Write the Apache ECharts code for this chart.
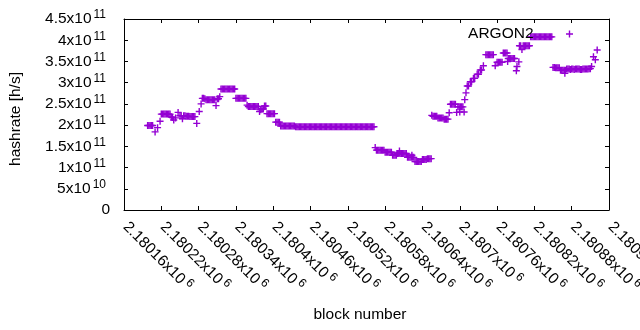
<!DOCTYPE html>
<html>
<head>
<meta charset="utf-8">
<script src="https://cdn.jsdelivr.net/npm/echarts/dist/echarts.min.js"></script>
<style>
html,body{margin:0;padding:0;background:#fff;}
#chart{width:640px;height:330px;}
</style>
</head>
<body>
<div id="chart"></div>
<script>
// ---- data ----
const seriesName = 'ARGON2';
const xAxisTitle = 'block number';
const yAxisTitle = 'hashrate [h/s]';
const xRange = [2180160, 2180940];
const xTickStep = 60;
const yRange = [0, 4.5e11];
const yTickStep = 0.5e11;
const blockBase = 2180000;   // block number = blockBase + offset
const hashrateUnit = 1e11;   // hashrate = value * hashrateUnit

const blockOffsets = [
  198,200,202,204,206,210,214,218,
  220,222,224,226,228,230,232,234,
  236,238,240,243,247,
  250,252,254,256,258,260,262,264,266,268,270,272,274,
  277,281,284,
  286,288,290,292,294,296,298,300,302,304,306,
  308,310,312,314,316,318,320,322,324,326,328,330,332,334,336,338,
  340,342,344,346,348,350,352,354,356,
  358,360,362,364,366,368,370,372,374,376,
  378,380,382,384,386,388,
  390,392,394,396,398,400,402,
  404,406,408,410,412,414,416,418,420,422,424,426,428,430,432,434,
  436,438,440,442,444,446,448,450,452,454,456,458,460,462,464,466,
  468,470,472,474,476,478,480,482,484,486,488,490,492,494,496,498,
  500,502,504,506,508,510,512,514,516,518,520,522,524,526,528,530,
  532,534,536,538,540,542,544,546,548,550,552,554,556,558,560,562,
  564,566,568,570,572,574,576,578,
  580,582,584,586,588,590,
  592,594,596,598,
  600,602,603,604,606,608,610,612,614,
  616,618,620,622,623,624,626,
  628,630,632,634,636,638,
  640,642,644,646,
  648,650,652,654,
  655,657,659,661,663,665,667,669,671,673,675,677,679,681,
  683,685,687,689,691,693,695,697,699,700,701,703,705,707,
  708,710,712,714,717,719,722,724,728,730,733,735,738,
  742,744,746,748,750,752,754,
  757,760,762,764,766,768,
  770,772,774,776,777,
  778,780,782,784,786,788,
  791,792,795,
  796,798,800,802,804,806,808,810,812,
  814,816,818,820,822,824,826,828,830,832,834,836,838,840,842,844,846,848,
  850,852,854,856,858,860,
  862,864,866,868,869,870,
  872,874,876,878,880,882,884,886,888,890,892,894,896,898,900,902,904,906,908,910,
  912,915,918,921
];

const hashrateE11 = [
  1.99,1.99,1.99,1.99,1.99,1.84,1.94,2.09,
  2.26,2.26,2.26,2.26,2.26,2.26,2.26,2.26,
  2.19,2.18,2.12,2.17,2.30,
  2.22,2.22,2.15,2.22,2.22,2.21,2.21,2.21,2.20,2.20,2.20,2.20,2.20,
  2.04,2.32,2.50,
  2.63,2.63,2.62,2.60,2.60,2.60,2.60,2.60,2.60,2.60,2.60,
  2.46,2.62,2.62,2.67,2.85,2.85,2.85,2.85,2.85,2.85,2.85,2.85,2.85,2.85,2.85,2.85,
  2.63,2.63,2.63,2.63,2.63,2.63,2.63,2.63,2.63,
  2.47,2.44,2.44,2.44,2.44,2.44,2.44,2.44,2.44,2.44,
  2.32,2.36,2.38,2.38,2.45,2.45,
  2.27,2.27,2.27,2.27,2.27,2.27,2.27,
  2.07,2.07,2.07,2.07,1.98,1.98,1.98,1.98,1.98,1.98,1.98,1.98,1.98,1.98,1.98,1.98,
  1.96,1.96,1.96,1.96,1.96,1.96,1.96,1.96,1.96,1.96,1.96,1.96,1.96,1.96,1.96,1.96,
  1.96,1.96,1.96,1.96,1.96,1.96,1.96,1.96,1.96,1.96,1.96,1.96,1.96,1.96,1.96,1.96,
  1.96,1.96,1.96,1.96,1.96,1.96,1.96,1.96,1.96,1.96,1.96,1.96,1.96,1.96,1.96,1.96,
  1.96,1.96,1.96,1.96,1.96,1.96,1.96,1.96,1.96,1.96,1.96,1.96,1.96,1.96,1.96,1.96,
  1.47,1.41,1.41,1.41,1.41,1.41,1.41,1.41,
  1.36,1.36,1.36,1.36,1.36,1.36,
  1.29,1.29,1.29,1.29,
  1.33,1.33,1.39,1.33,1.33,1.33,1.33,1.33,1.33,
  1.24,1.24,1.24,1.24,1.29,1.24,1.24,
  1.14,1.14,1.14,1.14,1.14,1.14,
  1.19,1.19,1.19,1.19,
  1.21,1.21,1.21,1.21,
  2.23,2.21,2.21,2.21,2.21,2.17,2.17,2.17,2.17,2.17,2.14,2.14,2.14,2.14,
  2.29,2.49,2.49,2.49,2.49,2.49,2.30,2.43,2.43,2.31,2.43,2.43,2.43,2.31,
  2.60,2.76,2.92,2.92,3.02,3.02,3.10,3.10,3.20,3.20,3.30,3.30,3.40,
  3.66,3.66,3.66,3.66,3.66,3.66,3.66,
  3.40,3.48,3.48,3.48,3.48,3.48,
  3.70,3.70,3.70,3.70,3.50,
  3.57,3.57,3.57,3.57,3.57,3.57,
  3.28,3.38,3.49,
  3.87,3.87,3.78,3.87,3.87,3.87,3.87,3.87,3.87,
  4.08,4.08,4.08,4.08,4.08,4.08,4.08,4.08,4.08,4.08,4.08,4.08,4.08,4.08,4.08,4.08,4.08,4.08,
  3.36,3.36,3.35,3.35,3.35,3.35,
  3.29,3.29,3.29,3.29,3.22,3.29,
  3.32,3.32,3.32,3.31,3.32,3.32,3.31,3.32,3.32,3.32,3.32,3.31,3.31,3.32,3.32,3.32,3.32,3.32,3.33,3.33,
  3.38,3.61,3.54,3.77
];

// ---- chart ----
const FONT = '"Liberation Sans", Arial, sans-serif';
const FS = 15.5;
const PLUS = 'path://M2.8,0H4.2V2.8H7V4.2H4.2V7H2.8V4.2H0V2.8H2.8Z';
const COLOR = '#9400d3';

const points = blockOffsets.map((o, i) => [blockBase + o, hashrateE11[i] * hashrateUnit]);

function sciLabel(baseStyle, supStyle) {
  return function (v) {
    if (v === 0) return '{' + baseStyle + '|0}';
    const exp = Math.floor(Math.log10(Math.abs(v)) + 1e-9);
    const mant = parseFloat((v / Math.pow(10, exp)).toPrecision(6));
    return '{' + baseStyle + '|' + mant + 'x10}{' + supStyle + '|' + exp + '}';
  };
}
const baseTok = { fontSize: FS, lineHeight: 20, color: '#000', fontFamily: FONT };
const supTok = { fontSize: 12, lineHeight: 11, verticalAlign: 'top', color: '#000', fontFamily: FONT };
const richY = {
  by: baseTok,
  sy: Object.assign({}, supTok, { padding: [0, 4, 0, 2] })
};
const richX = {
  bx: Object.assign({}, baseTok, { padding: [0, 0, 0, 2] }),
  sx: Object.assign({}, supTok, { padding: [0, 0, 0, 3] })
};
const lineStyle = { color: '#000', width: 1 };

const chart = echarts.init(document.getElementById('chart'), null, { renderer: 'canvas' });
chart.setOption({
  animation: false,
  backgroundColor: '#fff',
  grid: { left: 124, right: 31, top: 19, bottom: 120, containLabel: false, outerBoundsMode: 'none' },
  legend: {
    data: [{ name: seriesName, icon: PLUS }],
    right: 67, top: 26, padding: 0,
    align: 'right', itemWidth: 62, itemHeight: 7,
    selectedMode: false,
    textStyle: { fontSize: FS, color: '#000', fontFamily: FONT }
  },
  xAxis: [
    {
      type: 'value', position: 'bottom', min: xRange[0], max: xRange[1], interval: xTickStep,
      axisLine: { onZero: false, lineStyle },
      axisTick: { inside: true, length: 4, lineStyle },
      splitLine: { show: false },
      axisLabel: { rotate: -45, margin: 13, formatter: sciLabel('bx', 'sx'), rich: richX, color: '#000' }
    },
    {
      type: 'value', position: 'top', min: xRange[0], max: xRange[1], interval: xTickStep,
      axisLine: { onZero: false, lineStyle },
      axisTick: { inside: true, length: 4, lineStyle },
      splitLine: { show: false },
      axisLabel: { show: false }
    }
  ],
  yAxis: [
    {
      type: 'value', position: 'left', min: yRange[0], max: yRange[1], interval: yTickStep,
      axisLine: { show: true, onZero: false, lineStyle },
      axisTick: { show: true, inside: true, length: 4, lineStyle },
      splitLine: { show: false },
      axisLabel: { margin: 14, formatter: sciLabel('by', 'sy'), rich: richY, color: '#000' }
    },
    {
      type: 'value', position: 'right', min: yRange[0], max: yRange[1], interval: yTickStep,
      axisLine: { show: true, onZero: false, lineStyle },
      axisTick: { show: true, inside: true, length: 4, lineStyle },
      splitLine: { show: false },
      axisLabel: { show: false }
    }
  ],
  graphic: [
    {
      type: 'text', x: 16, y: 119, rotation: Math.PI / 2,
      style: { text: yAxisTitle, fontSize: FS, fontFamily: FONT, fill: '#000', align: 'center', verticalAlign: 'middle' }
    },
    {
      type: 'text', x: 360, y: 315,
      style: { text: xAxisTitle, fontSize: FS, fontFamily: FONT, fill: '#000', align: 'center', verticalAlign: 'middle' }
    }
  ],
  series: [{
    name: seriesName,
    type: 'scatter',
    xAxisIndex: 0, yAxisIndex: 0,
    symbol: PLUS,
    symbolSize: [7, 7],
    itemStyle: { color: COLOR, opacity: 1 },
    emphasis: { disabled: true },
    data: points
  }]
});
</script>
</body>
</html>
